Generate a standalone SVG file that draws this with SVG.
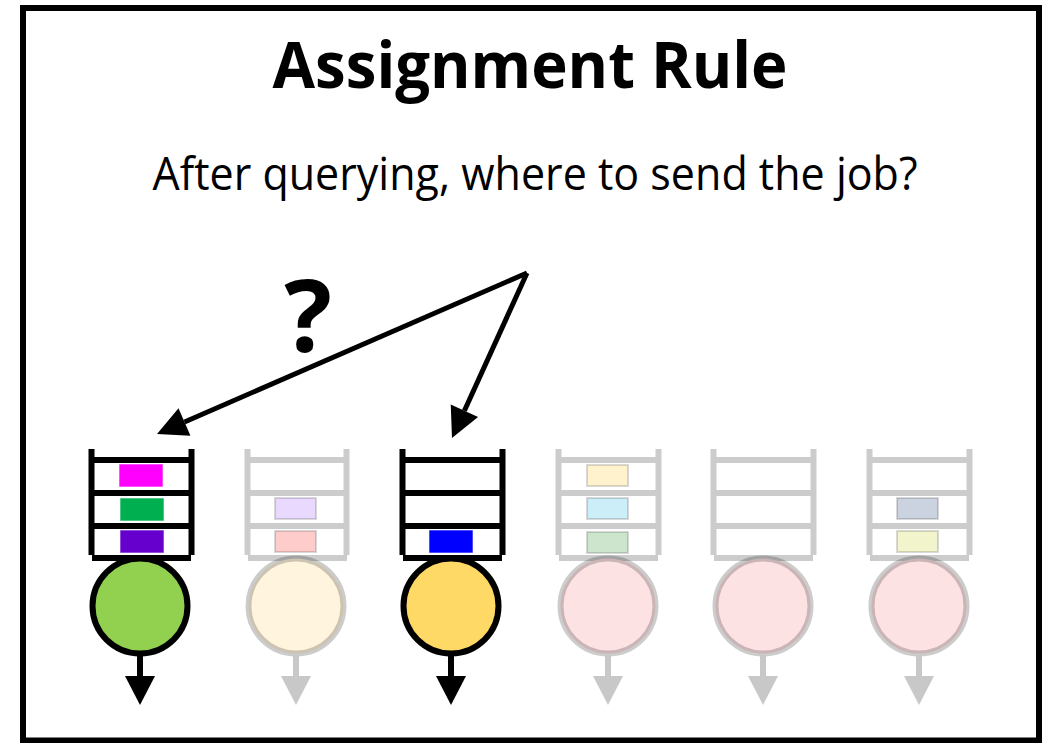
<svg xmlns="http://www.w3.org/2000/svg" width="1045" height="743" viewBox="0 0 1045 743">
  <defs>
    <style>
      .title { font-family: "Open Sans", "Liberation Sans", sans-serif; font-weight: 700; fill: #000; }
      .sub { font-family: "Open Sans", "Liberation Sans", sans-serif; font-weight: 400; fill: #000; }
      .bar { stroke: #000; stroke-width: 6; fill: none; }
      .bar-f { stroke: rgba(0,0,0,0.2); stroke-width: 6; fill: none; }
      .srv { stroke: #000; stroke-width: 6; }
      .srv-f { stroke: rgba(0,0,0,0.2); stroke-width: 6; }
      .out { stroke: #000; stroke-width: 6; }
      .out-f { stroke: #c8c8c8; stroke-width: 6; }
      .job { stroke: rgba(255,255,255,0.6); stroke-width: 1; }
      .job-f { stroke: rgba(0,0,0,0.15); stroke-width: 2; }
      .link { stroke: #000; stroke-width: 5; fill: none; marker-end: url(#head); }
    </style>
    <marker id="head" markerUnits="strokeWidth" markerWidth="6" markerHeight="6" refX="0" refY="3" orient="auto" overflow="visible">
      <path d="M0,0 L6,3 L0,6 Z" fill="#000"/>
    </marker>
  </defs>

  <rect x="0" y="0" width="1045" height="743" fill="#fff"/>
  <!-- frame -->
  <rect x="23" y="8" width="1016" height="732.5" fill="none" stroke="#000" stroke-width="6"/>

  <text class="title" x="530" y="88" font-size="64" text-anchor="middle" textLength="515" lengthAdjust="spacingAndGlyphs">Assignment Rule</text>
  <text class="sub" x="535" y="190" font-size="46" text-anchor="middle" textLength="765" lengthAdjust="spacingAndGlyphs">After querying, where to send the job?</text>
  <text class="title" x="308" y="352" font-size="100" text-anchor="middle">?</text>

  <!-- dispatch arrows -->
  <g id="connectors">
    <line class="link" x1="527" y1="273" x2="184.5" y2="422"/>
    <line class="link" x1="527" y1="273" x2="464.4" y2="410.7"/>
  </g>

  <!-- server 1 -->
  <g id="server1">
    <path class="bar" d="M91.5,449 V555 M191.5,449 V555 M91.5,460 H191.5 M91.5,493 H191.5 M91.5,526 H191.5 M92,558 H191"/>
    <rect x="119" y="464" width="44" height="23" fill="#FF00FF" class="job"/>
    <rect x="120" y="498" width="44" height="23" fill="#00B050" class="job"/>
    <rect x="120" y="530" width="44" height="23" fill="#6600CC" class="job"/>
    <circle class="srv" cx="140" cy="606" r="47.5" fill="#92D050"/>
    <line class="out" x1="140" y1="655" x2="140" y2="677"/>
    <polygon points="125,676 155,676 140,705" fill="#000"/>
  </g>

  <!-- server 2 -->
  <g id="server2">
    <path class="bar-f" d="M247.5,449 V555 M346.5,449 V555 M250.5,460 H343.5 M250.5,493 H343.5 M250.5,526 H343.5 M248,558 H347"/>
    <rect x="275" y="498" width="41" height="21" fill="#EAD9FF" class="job-f"/>
    <rect x="275" y="531" width="41" height="21" fill="#FFCCCC" class="job-f"/>
    <circle class="srv-f" cx="296" cy="606" r="47.5" fill="#FFF5DE"/>
    <line class="out-f" x1="296" y1="655" x2="296" y2="677"/>
    <polygon points="281,676 311,676 296,705" fill="#c8c8c8"/>
  </g>

  <!-- server 3 -->
  <g id="server3">
    <path class="bar" d="M402.5,449 V555 M502.5,449 V555 M402.5,460 H502.5 M402.5,493 H502.5 M402.5,526 H502.5 M403,558 H502"/>
    <rect x="429" y="530" width="44" height="23" fill="#0000FF" class="job"/>
    <circle class="srv" cx="451" cy="606" r="47.5" fill="#FFD966"/>
    <line class="out" x1="451" y1="655" x2="451" y2="677"/>
    <polygon points="436,676 466,676 451,705" fill="#000"/>
  </g>

  <!-- server 4 -->
  <g id="server4">
    <path class="bar-f" d="M558.5,449 V555 M658.5,449 V555 M561.5,460 H655.5 M561.5,493 H655.5 M561.5,526 H655.5 M559,558 H658"/>
    <rect x="587" y="465" width="41" height="21" fill="#FFF2CC" class="job-f"/>
    <rect x="587" y="498" width="41" height="21" fill="#CCEEF8" class="job-f"/>
    <rect x="587" y="532" width="41" height="21" fill="#CCE5CC" class="job-f"/>
    <circle class="srv-f" cx="608" cy="606" r="47.5" fill="#FDE2E4"/>
    <line class="out-f" x1="608" y1="655" x2="608" y2="677"/>
    <polygon points="593,676 623,676 608,705" fill="#c8c8c8"/>
  </g>

  <!-- server 5 -->
  <g id="server5">
    <path class="bar-f" d="M713.5,449 V555 M813.5,449 V555 M716.5,460 H810.5 M716.5,493 H810.5 M716.5,526 H810.5 M714,558 H813"/>
    <circle class="srv-f" cx="763" cy="606" r="47.5" fill="#FDE2E4"/>
    <line class="out-f" x1="763" y1="655" x2="763" y2="677"/>
    <polygon points="748,676 778,676 763,705" fill="#c8c8c8"/>
  </g>

  <!-- server 6 -->
  <g id="server6">
    <path class="bar-f" d="M869.5,449 V555 M969.5,449 V555 M872.5,460 H966.5 M872.5,493 H966.5 M872.5,526 H966.5 M870,558 H969"/>
    <rect x="897" y="498" width="41" height="21" fill="#CCD3E0" class="job-f"/>
    <rect x="897" y="531" width="41" height="21" fill="#F2F5CC" class="job-f"/>
    <circle class="srv-f" cx="919" cy="606" r="47.5" fill="#FDE2E4"/>
    <line class="out-f" x1="919" y1="655" x2="919" y2="677"/>
    <polygon points="904,676 934,676 919,705" fill="#c8c8c8"/>
  </g>
</svg>
